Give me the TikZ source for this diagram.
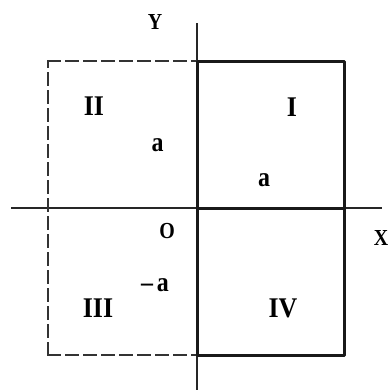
\documentclass[tikz,border=0pt]{standalone}
\usepackage{fontspec}
\setmainfont{Liberation Serif}
\begin{document}
\begin{tikzpicture}[x=1bp,y=-1bp,
  axisline/.style={line width=1.3bp, draw=black!85},
  solidbox/.style={line width=3bp, draw=black!90, line join=round},
  dashbox/.style={line width=2.2bp, draw=black!80, dash pattern=on 12bp off 6bp, line cap=rect},
  numeral/.style={font=\fontsize{26}{26}\selectfont\bfseries, inner sep=0pt},
  lbl/.style={font=\fontsize{24}{24}\selectfont\bfseries, inner sep=0pt},
  axlbl/.style={font=\fontsize{20}{20}\selectfont\bfseries, inner sep=0pt}]
\useasboundingbox (0,0) rectangle (390,390);
\fill[white] (0,0) rectangle (390,390);
% corners
\coordinate (tl) at (48,61);
\coordinate (tm) at (197,61);
\coordinate (tr) at (344,61);
\coordinate (mm) at (197,208);
\coordinate (mr) at (344,208);
\coordinate (bl) at (48,355);
\coordinate (bm) at (197,355);
\coordinate (br) at (344,355);
% axes ends
\coordinate (xs) at (11,208);
\coordinate (xe) at (382,208);
\coordinate (ys) at (197,23);
\coordinate (ye) at (197,390);
% axes
\draw[axisline] (xs) -- (xe);
\draw[axisline] (ys) -- (ye);
% dashed region
\draw[dashbox] (tl) -- (tm);
\draw[dashbox] (bl) -- (tl);
\draw[dashbox] (bl) -- (bm);
% solid region
\draw[solidbox] (tm) -- (tr) -- (br) -- (bm) -- cycle;
\draw[solidbox] (mm) -- (mr);
% labels
\node[axlbl] (Y) at (155,22) {\scalebox{1}[1.15]{Y}};
\node[axlbl] (X) at (381,238) {\scalebox{1}[1.15]{X}};
\node[axlbl] (O) at (167,231) {\scalebox{1}[1.15]{O}};
\node[numeral] (q2) at (94,106) {\scalebox{1}[1.1]{II}};
\node[numeral] (q1) at (292,107) {\scalebox{1}[1.1]{I}};
\node[numeral] (q3) at (98,308) {\scalebox{1}[1.1]{III}};
\node[numeral] (q4) at (283,308) {\scalebox{1}[1.1]{IV}};
\node[lbl] (a2) at (157.5,145) {\scalebox{1}[1.15]{a}};
\node[lbl] (a1) at (264,180) {\scalebox{1}[1.15]{a}};
\node[lbl] (ma) at (155,285) {\scalebox{1}[1.15]{\textendash\,a}};
\end{tikzpicture}
\end{document}
